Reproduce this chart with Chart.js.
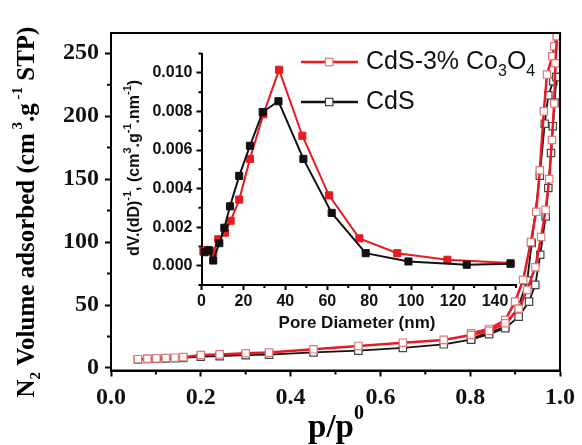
<!DOCTYPE html>
<html>
<head>
<meta charset="utf-8">
<script src="https://cdn.jsdelivr.net/npm/chart.js@4"></script>
<style>
  body { margin: 0; background: #fff; }
  #wrap { position: relative; width: 582px; height: 445px; }
  #main { position: absolute; left: 0; top: 0; }
  #inset { position: absolute; left: 100px; top: 40px; }
</style>
</head>
<body>
<div id="wrap">
  <canvas id="main" width="582" height="445"></canvas>
  <canvas id="inset" width="430" height="300"></canvas>
</div>
<script>
// N2 isotherms (p/p0, cm3/g)
var pCdsAds = [0.060, 0.081, 0.101, 0.122, 0.142, 0.161, 0.200, 0.242, 0.300, 0.352, 0.451, 0.551, 0.650, 0.741, 0.802, 0.842, 0.878, 0.908, 0.931, 0.945, 0.956, 0.968, 0.974, 0.980, 0.984, 0.988, 0.992];
var vCdsAds = [6.8, 7.1, 7.3, 7.5, 7.7, 8.0, 9.0, 9.4, 10.2, 10.6, 12.4, 13.8, 15.9, 18.8, 22.5, 26.8, 31.6, 40.8, 52.7, 66.0, 89.9, 120.3, 142.9, 170.7, 192.0, 210.7, 231.0];
var pCdsDes = [0.992, 0.985, 0.974, 0.966, 0.955, 0.937, 0.927, 0.908, 0.878, 0.842, 0.802];
var vCdsDes = [231.0, 227.7, 216.5, 194.0, 152.7, 99.2, 69.4, 49.3, 33.0, 28.0, 23.5];

var pRedAds = [0.060, 0.081, 0.101, 0.122, 0.142, 0.161, 0.200, 0.242, 0.300, 0.352, 0.451, 0.551, 0.650, 0.741, 0.802, 0.842, 0.878, 0.908, 0.927, 0.945, 0.958, 0.968, 0.976, 0.982, 0.987, 0.990, 0.993];
var vRedAds = [7.0, 7.3, 7.6, 7.9, 8.2, 8.6, 10.3, 10.8, 11.7, 12.2, 14.8, 17.5, 20.1, 22.3, 26.2, 29.5, 35.5, 47.0, 62.0, 80.0, 104.0, 125.6, 150.0, 181.0, 210.0, 242.0, 263.4];
var pRedDes = [0.993, 0.987, 0.983, 0.971, 0.964, 0.955, 0.947, 0.935, 0.918, 0.900, 0.878, 0.842, 0.802];
var vRedDes = [263.4, 255.5, 247.5, 233.0, 203.8, 157.0, 124.0, 100.0, 70.0, 52.7, 38.0, 31.0, 27.6];

// pore size distribution (nm, cm3/g/nm)
var dCds = [1.5, 3.5, 5.6, 8.5, 10.9, 13.6, 18.0, 23.1, 29.2, 36.7, 48.6, 62.1, 78.3, 98.7, 126.5, 147.4];
var sCds = [0.0007, 0.0008, 0.00027, 0.00117, 0.00197, 0.00308, 0.00466, 0.00622, 0.00797, 0.00853, 0.00554, 0.00274, 0.00065, 0.00022, 0.00005, 0.0001];
var dRed = [0.9, 2.5, 4.1, 5.6, 8.0, 11.2, 13.9, 18.0, 23.1, 29.5, 37.0, 48.1, 60.8, 75.3, 93.4, 117.3, 147.4];
var sRed = [0.00074, 0.00082, 0.00077, 0.00068, 0.00137, 0.00171, 0.00233, 0.00343, 0.00554, 0.00785, 0.01016, 0.00674, 0.00365, 0.00142, 0.00065, 0.00031, 0.00014];

// ticks
var xTicks = [0, 0.2, 0.4, 0.6, 0.8, 1.0];
var yTicks = [0, 50, 100, 150, 200, 250];
var xMinor = [0.1, 0.3, 0.5, 0.7, 0.9];
var yMinor = [25, 75, 125, 175, 225];
var dTicks = [0, 20, 40, 60, 80, 100, 120, 140];
var sTicks = [0, 0.002, 0.004, 0.006, 0.008, 0.010];
var dMinor = [10, 30, 50, 70, 90, 110, 130, 150];
var sMinor = [-0.001, 0.001, 0.003, 0.005, 0.007, 0.009, 0.011];

var RED = '#ea1a22';
var BLK = '#111111';
var SERIF = '"Liberation Serif", "Times New Roman", serif';
var SANS = '"Liberation Sans", Arial, sans-serif';

function pts(xs, ys) {
  return xs.map(function(x, i) { return {x: x, y: ys[i]}; });
}

// draws text made of parts [text, font, dy], centered at x unless align is 'left'
function richText(ctx, parts, x, y, align) {
  var total = 0;
  parts.forEach(function(p) { ctx.font = p[1]; total += ctx.measureText(p[0]).width; });
  var cx = align === 'left' ? x : x - total / 2;
  ctx.textAlign = 'left';
  ctx.textBaseline = 'middle';
  parts.forEach(function(p) {
    ctx.font = p[1];
    ctx.fillText(p[0], cx, y + (p[2] || 0));
    cx += ctx.measureText(p[0]).width;
  });
}

function minorTicks(ctx, chart, xs, ys, len) {
  var a = chart.chartArea;
  ctx.save();
  ctx.strokeStyle = '#000';
  ctx.lineWidth = 2;
  ctx.beginPath();
  xs.forEach(function(v) {
    var px = chart.scales.x.getPixelForValue(v);
    ctx.moveTo(px, a.bottom); ctx.lineTo(px, a.bottom + len);
  });
  ys.forEach(function(v) {
    var py = chart.scales.y.getPixelForValue(v);
    ctx.moveTo(a.left, py); ctx.lineTo(a.left - len, py);
  });
  ctx.stroke();
  ctx.restore();
}

function openSet(xs, ys, line, edge, w) {
  return {
    data: pts(xs, ys), showLine: true, borderColor: line, borderWidth: w,
    pointStyle: 'rect', pointRadius: 5.2, pointBackgroundColor: '#fff',
    pointBorderColor: edge, pointBorderWidth: 1.2, clip: false
  };
}

var mainDecor = {
  id: 'mainDecor',
  afterDraw: function(chart) {
    var ctx = chart.ctx, a = chart.chartArea;
    ctx.save();
    ctx.strokeStyle = '#000';
    ctx.lineWidth = 2;
    ctx.strokeRect(a.left, a.top, a.right - a.left, a.bottom - a.top);
    ctx.restore();
    minorTicks(ctx, chart, xMinor, yMinor, 4);

    ctx.save();
    ctx.fillStyle = '#000';
    // x title
    richText(ctx, [
      ['p/p', 'bold 33px ' + SERIF, 0],
      ['0', 'bold 20px ' + SERIF, -14]
    ], 336, 428);
    // y title
    ctx.translate(28, 212);
    ctx.rotate(-Math.PI / 2);
    richText(ctx, [
      ['N', 'bold 25px ' + SERIF, 0],
      ['2', 'bold 15px ' + SERIF, 8],
      [' Volume adsorbed (cm', 'bold 25px ' + SERIF, 0],
      [' 3', 'bold 15px ' + SERIF, -10],
      ['.g', 'bold 25px ' + SERIF, 0],
      [' -1', 'bold 15px ' + SERIF, -10],
      [' STP)', 'bold 25px ' + SERIF, 0]
    ], 0, 0);
    ctx.restore();

    // legend
    var items = [
      {y: 62, line: RED, edge: '#e07a7a', parts: [
        ['CdS-3% Co', '25px ' + SANS, 0],
        ['3', '16px ' + SANS, 10],
        ['O', '25px ' + SANS, 0],
        ['4', '16px ' + SANS, 10]
      ]},
      {y: 102, line: BLK, edge: '#444', parts: [['CdS', '25px ' + SANS, 0]]}
    ];
    items.forEach(function(it) {
      ctx.save();
      ctx.strokeStyle = it.line;
      ctx.lineWidth = 2.5;
      ctx.beginPath();
      ctx.moveTo(301, it.y); ctx.lineTo(358, it.y);
      ctx.stroke();
      ctx.fillStyle = '#fff';
      ctx.fillRect(325.5, it.y - 3.7, 7.4, 7.4);
      ctx.strokeStyle = it.edge;
      ctx.lineWidth = 1.2;
      ctx.strokeRect(325.5, it.y - 3.7, 7.4, 7.4);
      ctx.fillStyle = '#111';
      richText(ctx, it.parts, 366, it.y, 'left');
      ctx.restore();
    });
  }
};

var insetDecor = {
  id: 'insetDecor',
  afterDraw: function(chart) {
    var ctx = chart.ctx;
    minorTicks(ctx, chart, dMinor, sMinor, 3);
    ctx.save();
    ctx.fillStyle = '#111';
    richText(ctx, [['Pore Diameter (nm)', 'bold 17px ' + SANS, 0]], 257, 283);
    ctx.translate(35, 128);
    ctx.rotate(-Math.PI / 2);
    richText(ctx, [
      ['dV.(dD)', 'bold 16px ' + SANS, 0],
      ['-1', 'bold 11px ' + SANS, -7],
      [', (cm', 'bold 16px ' + SANS, 0],
      ['3', 'bold 11px ' + SANS, -7],
      ['.g', 'bold 16px ' + SANS, 0],
      ['-1', 'bold 11px ' + SANS, -7],
      ['.nm', 'bold 16px ' + SANS, 0],
      ['-1', 'bold 11px ' + SANS, -7],
      [')', 'bold 16px ' + SANS, 0]
    ], 0, 0);
    ctx.restore();
  }
};

function axisOpts(min, max, ticks, fmt, font, pad, len, fitKey, fitVal) {
  var o = {
    type: 'linear', min: min, max: max,
    afterBuildTicks: function(s) { s.ticks = ticks.map(function(v) { return {value: v}; }); },
    ticks: { callback: fmt, font: font, color: '#111', padding: pad, maxRotation: 0, autoSkip: false },
    grid: { drawOnChartArea: false, drawTicks: true, tickLength: len, tickWidth: 2, tickColor: '#000' },
    border: { color: '#000', width: 2 },
    title: { display: false }
  };
  o.afterFit = function(s) { s[fitKey] = fitVal; };
  return o;
}

var mainChart = new Chart(document.getElementById('main'), {
  type: 'scatter',
  data: { datasets: [
    openSet(pRedAds, vRedAds, RED, '#e07a7a', 2.5),
    openSet(pRedDes, vRedDes, RED, '#e07a7a', 2.5),
    openSet(pCdsAds, vCdsAds, BLK, '#444', 1.8),
    openSet(pCdsDes, vCdsDes, BLK, '#444', 1.8)
  ]},
  options: {
    responsive: false, animation: false, devicePixelRatio: 1,
    layout: { padding: { top: 33, right: 19, left: 0, bottom: 0 } },
    plugins: { legend: { display: false }, tooltip: { enabled: false } },
    scales: {
      x: axisOpts(0, 1, xTicks, function(v) { return Number(v).toFixed(1); },
        { family: SERIF, weight: 'bold', size: 24 }, 7, 6, 'height', 74.5),
      y: axisOpts(-2, 266, yTicks, function(v) { return String(v); },
        { family: SERIF, weight: 'bold', size: 24 }, 6, 6, 'width', 111)
    }
  },
  plugins: [mainDecor]
});

function filledSet(xs, ys, col) {
  return {
    data: pts(xs, ys), showLine: true, borderColor: col, borderWidth: 2,
    pointStyle: 'rect', pointRadius: 5, pointBackgroundColor: col,
    pointBorderColor: col, pointBorderWidth: 1, clip: false
  };
}

var insetChart = new Chart(document.getElementById('inset'), {
  type: 'scatter',
  data: { datasets: [
    filledSet(dCds, sCds, BLK),
    filledSet(dRed, sRed, RED)
  ]},
  options: {
    responsive: false, animation: false, devicePixelRatio: 1,
    layout: { padding: { top: 10.7, right: 14, left: 0, bottom: 0 } },
    plugins: { legend: { display: false }, tooltip: { enabled: false } },
    scales: {
      x: axisOpts(0, 150, dTicks, function(v) { return String(v); },
        { family: SANS, weight: 'bold', size: 16 }, 2, 5, 'height', 55),
      y: axisOpts(-0.001, 0.011, sTicks, function(v) { return Number(v).toFixed(3); },
        { family: SANS, weight: 'bold', size: 16 }, 4, 5, 'width', 101.5)
    }
  },
  plugins: [insetDecor]
});
</script>
</body>
</html>
